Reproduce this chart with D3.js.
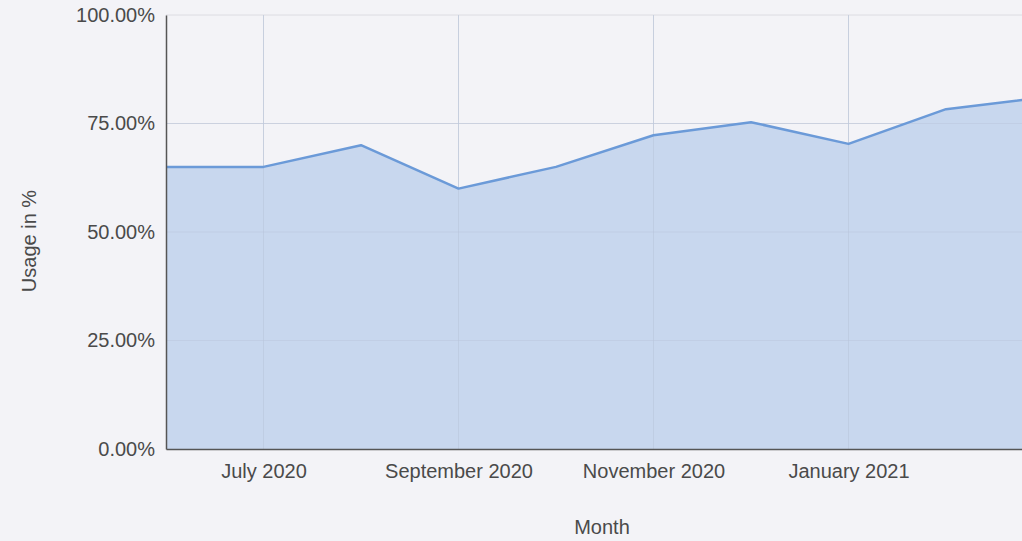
<!DOCTYPE html>
<html>
<head>
<meta charset="utf-8">
<script src="https://cdn.jsdelivr.net/npm/d3@7"></script>
<style>
  html, body { margin: 0; padding: 0; background: #f3f3f7; }
  svg { display: block; font-family: "Liberation Sans", Arial, sans-serif; }
</style>
</head>
<body>
<svg id="chart" width="1022" height="541"></svg>
<script>
const months = ["June 2020", "July 2020", "August 2020", "September 2020", "October 2020",
                "November 2020", "December 2020", "January 2021", "February 2021", "March 2021"];
const usage = [65, 65, 70, 60, 65, 72.3, 75.3, 70.3, 78.3, 81];
const xTickLabels = ["July 2020", "September 2020", "November 2020", "January 2021"];
const yTicks = [0, 25, 50, 75, 100];

(function () {
const svg = d3.select("#chart");
const mLeft = 166, mTop = 15, mBottom = 449;
const step = 97.5;
const mRight = mLeft + step * (months.length - 1);
const fs = 20;
const txt = "#4a4a4a";

const x = d3.scalePoint().domain(months).range([mLeft, mRight]);
const y = d3.scaleLinear().domain([0, 100]).range([mBottom, mTop]);

const data = months.map((m, i) => ({ m, v: usage[i] }));

// gridlines
svg.append("g").selectAll("line").data(yTicks.filter(t => t > 0)).join("line")
  .attr("x1", mLeft).attr("x2", 1022)
  .attr("y1", d => y(d)).attr("y2", d => y(d))
  .attr("stroke", "#dcdce2").attr("stroke-width", 1);
svg.append("g").selectAll("line").data(xTickLabels).join("line")
  .attr("x1", d => x(d)).attr("x2", d => x(d))
  .attr("y1", mTop).attr("y2", mBottom)
  .attr("stroke", "#dcdce2").attr("stroke-width", 1);

// area
const area = d3.area().x(d => x(d.m)).y0(y(0)).y1(d => y(d.v));
svg.append("path").datum(data).attr("d", area)
  .attr("fill", "#c8d7ee");

// faint grid over area
svg.append("g").selectAll("line").data(xTickLabels).join("line")
  .attr("x1", d => x(d)).attr("x2", d => x(d))
  .attr("y1", mTop).attr("y2", mBottom)
  .attr("stroke", "#b9c6dc").attr("stroke-width", 1).attr("stroke-opacity", 0.6);
svg.append("g").selectAll("line").data(yTicks.filter(t => t > 0 && t < 100)).join("line")
  .attr("x1", mLeft).attr("x2", 1022)
  .attr("y1", d => y(d)).attr("y2", d => y(d))
  .attr("stroke", "#b9c6dc").attr("stroke-width", 1).attr("stroke-opacity", 0.5);

const line = d3.line().x(d => x(d.m)).y(d => y(d.v));
svg.append("path").datum(data).attr("d", line)
  .attr("fill", "none").attr("stroke", "#6b9ad8").attr("stroke-width", 2.5)
  .attr("stroke-linejoin", "round");

// axes
const yAxis = d3.axisLeft(y).tickValues(yTicks).tickSize(0).tickPadding(11)
  .tickFormat(d => d3.format(".2f")(d) + "%");
const gy = svg.append("g").attr("transform", `translate(${mLeft},0)`).call(yAxis);
gy.select(".domain").attr("stroke", "#555").attr("stroke-width", 1.5);
gy.selectAll("text").attr("font-size", fs).attr("fill", txt)
  .attr("font-family", "'Liberation Sans', Arial, sans-serif");

const xAxis = d3.axisBottom(x).tickValues(xTickLabels).tickSize(0).tickPadding(15);
const gx = svg.append("g").attr("transform", `translate(0,${mBottom})`).call(xAxis);
gx.select(".domain").attr("stroke", "#555").attr("stroke-width", 1.5);
gx.selectAll("text").attr("font-size", fs).attr("fill", txt)
  .attr("font-family", "'Liberation Sans', Arial, sans-serif");

// titles
svg.append("text").attr("x", 602).attr("y", 534).attr("text-anchor", "middle")
  .attr("font-size", fs).attr("fill", txt).text("Month");
svg.append("text").attr("transform", "translate(36,241) rotate(-90)")
  .attr("text-anchor", "middle").attr("font-size", fs).attr("fill", txt)
  .text("Usage in %");
})();
</script>
</body>
</html>
